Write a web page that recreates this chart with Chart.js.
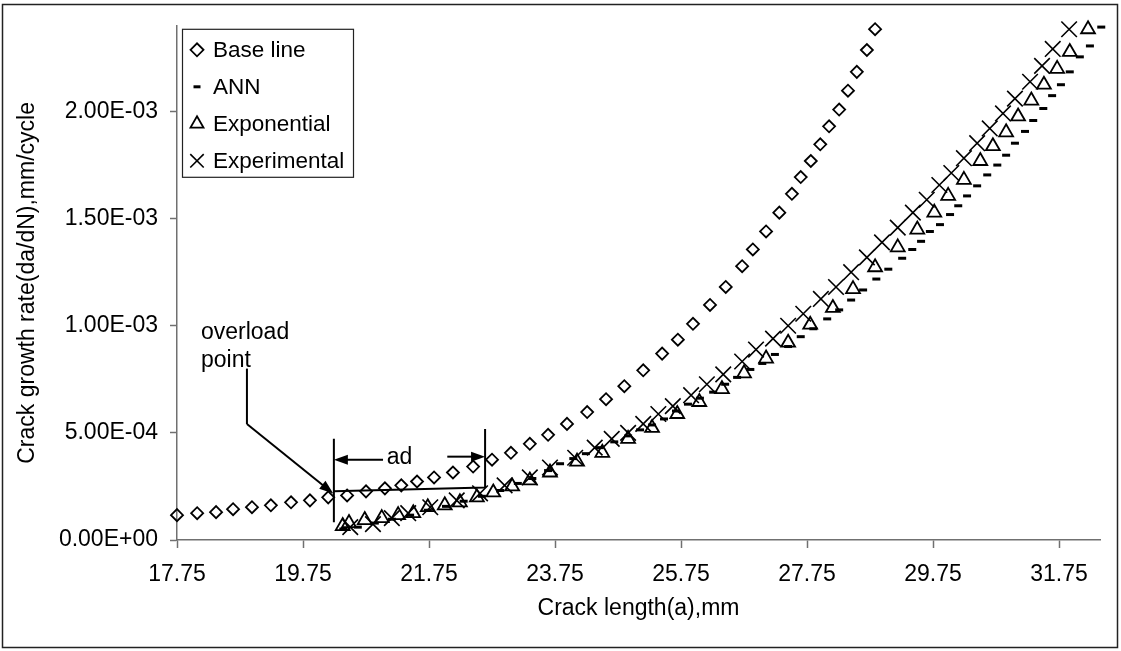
<!DOCTYPE html>
<html>
<head>
<meta charset="utf-8">
<title>Crack growth rate vs crack length</title>
<script src="https://cdn.jsdelivr.net/npm/chart.js@4.4.1/dist/chart.umd.min.js"></script>
<style>
  html, body { margin: 0; padding: 0; background: #fff; }
  #wrap { width: 1121px; height: 651px; position: relative; }
</style>
</head>
<body>
<div id="wrap"><canvas id="crackChart" width="1121" height="651"></canvas></div>
<script>
// ---- data (crack length mm, da/dN mm/cycle) ----
const baseX = [17.75, 18.07, 18.37, 18.64, 18.94, 19.24, 19.56, 19.86, 20.15, 20.45,
  20.75, 21.05, 21.31, 21.56, 21.83, 22.13, 22.45, 22.75, 23.05, 23.35,
  23.64, 23.94, 24.26, 24.56, 24.85, 25.15, 25.45, 25.70, 25.94, 26.21,
  26.46, 26.72, 26.89, 27.10, 27.31, 27.51, 27.65, 27.81, 27.96, 28.10,
  28.26, 28.40, 28.54, 28.70, 28.83];
const baseY = [1.16e-4, 1.25e-4, 1.30e-4, 1.44e-4, 1.53e-4, 1.62e-4, 1.76e-4, 1.85e-4, 1.99e-4, 2.08e-4,
  2.27e-4, 2.41e-4, 2.55e-4, 2.73e-4, 2.92e-4, 3.15e-4, 3.43e-4, 3.75e-4, 4.07e-4, 4.49e-4,
  4.91e-4, 5.42e-4, 5.97e-4, 6.57e-4, 7.18e-4, 7.92e-4, 8.70e-4, 9.35e-4, 1.009e-3, 1.097e-3,
  1.181e-3, 1.278e-3, 1.356e-3, 1.440e-3, 1.528e-3, 1.616e-3, 1.694e-3, 1.769e-3, 1.847e-3, 1.931e-3,
  2.009e-3, 2.097e-3, 2.185e-3, 2.287e-3, 2.384e-3];

const annX = [20.39, 20.62, 20.89, 21.16, 21.45, 21.73, 22.02, 22.30, 22.59, 22.88,
  23.16, 23.39, 23.64, 23.83, 24.04, 24.24, 24.46, 24.69, 24.91, 25.10,
  25.29, 25.48, 25.67, 25.86, 26.05, 26.26, 26.45, 26.64, 26.85, 27.04,
  27.24, 27.45, 27.65, 27.85, 28.07, 28.26, 28.45, 28.64, 28.85, 29.04,
  29.26, 29.42, 29.56, 29.70, 29.86, 30.02, 30.15, 30.29, 30.45, 30.61,
  30.77, 30.91, 31.05, 31.21, 31.34, 31.50, 31.64, 31.78, 31.92, 32.08,
  32.24, 32.42];
const annY = [0.51e-4, 0.60e-4, 0.79e-4, 0.97e-4, 1.16e-4, 1.39e-4, 1.57e-4, 1.81e-4, 2.04e-4, 2.31e-4,
  2.64e-4, 2.87e-4, 3.24e-4, 3.56e-4, 3.80e-4, 4.03e-4, 4.31e-4, 4.58e-4, 4.86e-4, 5.14e-4,
  5.37e-4, 5.65e-4, 6.02e-4, 6.34e-4, 6.62e-4, 6.90e-4, 7.27e-4, 7.59e-4, 7.96e-4, 8.24e-4,
  8.66e-4, 9.03e-4, 9.49e-4, 9.86e-4, 1.032e-3, 1.074e-3, 1.120e-3, 1.167e-3, 1.218e-3, 1.264e-3,
  1.315e-3, 1.356e-3, 1.394e-3, 1.440e-3, 1.472e-3, 1.519e-3, 1.560e-3, 1.606e-3, 1.653e-3, 1.704e-3,
  1.750e-3, 1.796e-3, 1.852e-3, 1.907e-3, 1.958e-3, 2.014e-3, 2.074e-3, 2.125e-3, 2.185e-3, 2.255e-3,
  2.306e-3, 2.394e-3];

const expoX = [20.38, 20.48, 20.73, 21.00, 21.26, 21.50, 21.73, 22.00, 22.24, 22.51,
  22.77, 23.07, 23.35, 23.67, 24.10, 24.50, 24.91, 25.29, 25.69, 26.04,
  26.40, 26.75, 27.10, 27.45, 27.80, 28.16, 28.48, 28.83, 29.19, 29.50,
  29.77, 29.99, 30.24, 30.50, 30.70, 30.91, 31.10, 31.31, 31.51, 31.72,
  31.92, 32.21];
const expoY = [0.65e-4, 0.79e-4, 0.93e-4, 1.02e-4, 1.16e-4, 1.25e-4, 1.53e-4, 1.62e-4, 1.76e-4, 1.99e-4,
  2.22e-4, 2.50e-4, 2.78e-4, 3.15e-4, 3.66e-4, 4.07e-4, 4.72e-4, 5.23e-4, 5.88e-4, 6.44e-4,
  7.04e-4, 7.78e-4, 8.47e-4, 9.21e-4, 1.005e-3, 1.083e-3, 1.171e-3, 1.273e-3, 1.366e-3, 1.449e-3,
  1.528e-3, 1.606e-3, 1.681e-3, 1.769e-3, 1.838e-3, 1.903e-3, 1.977e-3, 2.051e-3, 2.125e-3, 2.199e-3,
  2.278e-3, 2.384e-3];

const expX = [20.50, 20.86, 21.16, 21.42, 21.77, 22.19, 22.56, 22.95, 23.35, 23.67,
  24.07, 24.38, 24.65, 24.91, 25.15, 25.39, 25.62, 25.91, 26.16, 26.42,
  26.72, 26.94, 27.21, 27.45, 27.69, 27.97, 28.21, 28.45, 28.70, 28.94,
  29.19, 29.43, 29.65, 29.85, 30.04, 30.24, 30.45, 30.65, 30.86, 31.05,
  31.29, 31.48, 31.65, 31.91];
const expY = [0.60e-4, 0.74e-4, 1.02e-4, 1.25e-4, 1.53e-4, 1.85e-4, 2.18e-4, 2.55e-4, 2.92e-4, 3.38e-4,
  3.84e-4, 4.31e-4, 4.72e-4, 5.00e-4, 5.42e-4, 5.88e-4, 6.25e-4, 6.76e-4, 7.27e-4, 7.73e-4,
  8.33e-4, 8.89e-4, 9.40e-4, 1.000e-3, 1.056e-3, 1.125e-3, 1.181e-3, 1.250e-3, 1.319e-3, 1.389e-3,
  1.458e-3, 1.528e-3, 1.588e-3, 1.657e-3, 1.713e-3, 1.782e-3, 1.852e-3, 1.921e-3, 1.991e-3, 2.060e-3,
  2.139e-3, 2.213e-3, 2.292e-3, 2.384e-3];

const xTicks = [17.75, 19.75, 21.75, 23.75, 25.75, 27.75, 29.75, 31.75];
const yTicks = [0, 0.0005, 0.001, 0.0015, 0.002];

// annotation anchors, in data units
const overloadLabel = { x: 18.13, y1: 9.39e-4, y2: 8.09e-4 };
const leader = [[18.86, 8.0e-4], [18.86, 5.41e-4], [20.23, 2.17e-4]];
const adLeftX = 20.24, adRightX = 22.64;
const adLabel = { x: 21.08, y: 3.56e-4 };

const FONT = "Arial, 'Liberation Sans', sans-serif";
const AXIS_GREY = "#707070";

// ---- helpers ----
const toPoints = (xs, ys) => xs.map((x, i) => ({ x: x, y: ys[i] }));

// Excel style scientific label: 2.00E-03
function excelSci(v) {
  if (Math.abs(v) < 1e-12) return "0.00E+00";
  const parts = v.toExponential(2).split("e");
  const n = parseInt(parts[1], 10);
  return parts[0] + "E" + (n < 0 ? "-" : "+") + String(Math.abs(n)).padStart(2, "0");
}

function arrow(ctx, x1, y1, x2, y2) {
  const ang = Math.atan2(y2 - y1, x2 - x1);
  const len = 14, half = 5;
  ctx.beginPath();
  ctx.moveTo(x1, y1);
  ctx.lineTo(x2 - Math.cos(ang) * (len - 2), y2 - Math.sin(ang) * (len - 2));
  ctx.stroke();
  ctx.beginPath();
  ctx.moveTo(x2, y2);
  ctx.lineTo(x2 - Math.cos(ang) * len + Math.sin(ang) * half, y2 - Math.sin(ang) * len - Math.cos(ang) * half);
  ctx.lineTo(x2 - Math.cos(ang) * len - Math.sin(ang) * half, y2 - Math.sin(ang) * len + Math.cos(ang) * half);
  ctx.closePath();
  ctx.fill();
}

// frame, legend box and the overload / ad annotations
const extrasPlugin = {
  id: "extras",
  afterDatasetsDraw(chart) {
    const ctx = chart.ctx;
    const xs = chart.scales.x, ys = chart.scales.y;
    const px = v => xs.getPixelForValue(v);
    const py = v => ys.getPixelForValue(v);
    const area = chart.chartArea;

    ctx.save();
    // outer frame
    ctx.strokeStyle = "#222";
    ctx.lineWidth = 1.5;
    ctx.strokeRect(2.5, 4.5, 1115, 643);

    // annotations
    ctx.strokeStyle = "#000";
    ctx.fillStyle = "#000";
    ctx.lineWidth = 2;
    ctx.font = "23px " + FONT;
    ctx.textAlign = "left";
    ctx.textBaseline = "alphabetic";
    ctx.fillText("overload", px(overloadLabel.x), py(overloadLabel.y1));
    ctx.fillText("point", px(overloadLabel.x), py(overloadLabel.y2));
    ctx.fillText("ad", px(adLabel.x), py(adLabel.y));

    ctx.beginPath();
    ctx.moveTo(px(leader[0][0]), py(leader[0][1]));
    ctx.lineTo(px(leader[1][0]), py(leader[1][1]));
    ctx.stroke();
    arrow(ctx, px(leader[1][0]), py(leader[1][1]), px(leader[2][0]), py(leader[2][1]));

    ctx.beginPath();
    ctx.moveTo(px(adLeftX), py(4.72e-4));
    ctx.lineTo(px(adLeftX), py(0.83e-4));
    ctx.moveTo(px(adRightX), py(5.18e-4));
    ctx.lineTo(px(adRightX), py(2.45e-4));
    ctx.moveTo(px(adLeftX), py(2.27e-4));
    ctx.lineTo(px(adRightX), py(2.45e-4));
    ctx.stroke();
    arrow(ctx, px(21.02), py(3.75e-4), px(adLeftX), py(3.75e-4));
    arrow(ctx, px(22.04), py(3.89e-4), px(adRightX), py(3.89e-4));

    // legend
    const lx = area.left + 5, ly = area.top + 3;
    ctx.lineWidth = 1.2;
    ctx.strokeStyle = "#222";
    ctx.fillStyle = "#fff";
    ctx.fillRect(lx, ly, 171, 148);
    ctx.strokeRect(lx + 0.5, ly + 0.5, 171, 148);
    ctx.font = "22.5px " + FONT;
    ctx.textBaseline = "middle";
    const order = [0, 1, 2, 3];
    order.forEach((di, row) => {
      const ds = chart.data.datasets[di];
      const cy = ly + 21 + row * 37;
      ctx.save();
      ctx.strokeStyle = "#000";
      ctx.fillStyle = "rgba(0,0,0,0)";
      ctx.lineWidth = ds.pointBorderWidth;
      Chart.helpers.drawPoint(ctx, {
        pointStyle: ds.pointStyle,
        radius: ds.legendRadius,
        rotation: 0,
        borderWidth: ds.pointBorderWidth
      }, lx + 15, cy);
      ctx.restore();
      ctx.fillStyle = "#000";
      ctx.fillText(ds.label, lx + 31, cy + 1);
    });
    ctx.restore();
  }
};

// ---- chart ----
const ctx = document.getElementById("crackChart").getContext("2d");
const tickFont = { family: FONT, size: 23 };

new Chart(ctx, {
  type: "scatter",
  data: {
    datasets: [
      { label: "Base line", data: toPoints(baseX, baseY), pointStyle: "rectRot", pointRadius: 6, legendRadius: 6.5,
        pointBorderWidth: 1.8, borderColor: "#000", backgroundColor: "rgba(0,0,0,0)", order: 4, clip: false },
      { label: "ANN", data: toPoints(annX, annY), pointStyle: "line", pointRadius: 4, legendRadius: 3.5,
        pointBorderWidth: 3, borderColor: "#000", backgroundColor: "rgba(0,0,0,0)", order: 3, clip: false },
      { label: "Exponential", data: toPoints(expoX, expoY), pointStyle: "triangle", pointRadius: 8, legendRadius: 7.5,
        pointBorderWidth: 1.8, borderColor: "#000", backgroundColor: "rgba(0,0,0,0)", order: 2, clip: false },
      { label: "Experimental", data: toPoints(expX, expY), pointStyle: "crossRot", pointRadius: 11, legendRadius: 9.5,
        pointBorderWidth: 1.6, borderColor: "#000", backgroundColor: "rgba(0,0,0,0)", order: 1, clip: false }
    ]
  },
  options: {
    responsive: false,
    animation: false,
    events: [],
    layout: { padding: { top: 21, right: 21, left: 0, bottom: 0 } },
    plugins: { legend: { display: false }, tooltip: { enabled: false } },
    scales: {
      x: {
        type: "linear",
        min: 17.75,
        max: 32.4,
        afterBuildTicks: s => { s.ticks = xTicks.map(v => ({ value: v })); },
        afterFit: s => { s.height = 111; },
        border: { color: AXIS_GREY, width: 1.5 },
        grid: { drawOnChartArea: false, drawTicks: true, tickLength: 8, color: AXIS_GREY, tickWidth: 1.5 },
        ticks: { color: "#000", font: tickFont, padding: 13, maxRotation: 0, autoSkip: false,
                 callback: v => Number(v).toFixed(2) },
        title: { display: true, text: "Crack length(a),mm", color: "#000", font: tickFont,
                 padding: { top: 0, bottom: 29 } }
      },
      y: {
        type: "linear",
        min: 0,
        max: 0.0024,
        afterBuildTicks: s => { s.ticks = yTicks.map(v => ({ value: v })); },
        afterFit: s => { s.width = 177; },
        border: { color: AXIS_GREY, width: 1.5 },
        grid: { drawOnChartArea: false, drawTicks: true, tickLength: 7, color: AXIS_GREY, tickWidth: 1.5 },
        ticks: { color: "#000", font: tickFont, padding: 12, autoSkip: false, callback: v => excelSci(v) },
        title: { display: true, text: "Crack growth rate(da/dN),mm/cycle", color: "#000", font: tickFont,
                 padding: { top: 14, bottom: 0 } }
      }
    }
  },
  plugins: [extrasPlugin]
});
</script>
</body>
</html>
